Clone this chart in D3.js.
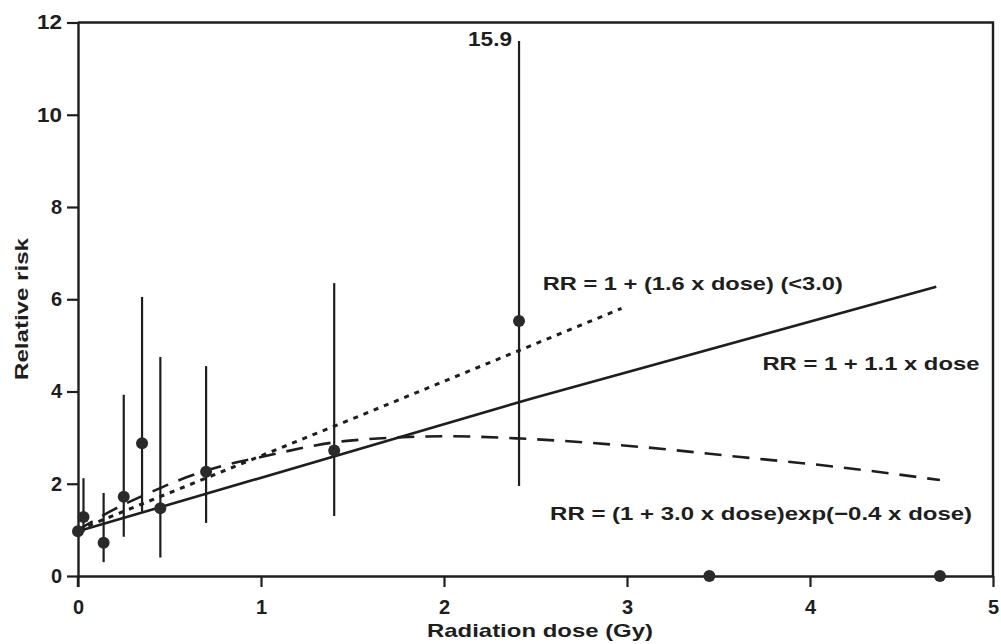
<!DOCTYPE html>
<html><head><meta charset="utf-8">
<script src="https://cdn.jsdelivr.net/npm/d3@7"></script>
<style>body{margin:0;background:#fff}text{font-family:"Liberation Sans",Arial,Helvetica,sans-serif;font-weight:bold;fill:#1e1e1e}</style>
</head><body><svg id="c" width="1001" height="644"></svg>
<script>
// Observed points: dose (Gy), relative risk, lower and upper CI (null = none shown)
const doses  = [0, 0.03, 0.14, 0.25, 0.35, 0.45, 0.70, 1.40, 2.41, 3.45, 4.71];
const rr     = [0.97, 1.28, 0.72, 1.72, 2.88, 1.47, 2.26, 2.72, 5.53, 0, 0];
const lower  = [null, 0.95, 0.30, 0.85, 1.40, 0.40, 1.15, 1.30, 1.95, null, null];
const upper  = [null, 2.12, 1.80, 3.93, 6.05, 4.75, 4.55, 6.35, 15.9, null, null];
const ciCap = 11.6; // upper bars drawn to the top of the plotting area and labelled
// Fitted curves
const linearFit = [[0, 0.97], [2.49, 3.86], [4.69, 6.27]];             // RR = 1 + 1.1 x dose
const lowDoseFit = [[0, 1.0], [1.52, 3.44], [2.97, 5.8]];              // RR = 1 + 1.6 x dose (<3.0)
const expFit = [[0, 1.0], [0.2, 1.45], [0.4, 1.82], [0.6, 2.15], [0.8, 2.4], [1.0, 2.58], [1.47, 2.93],
  [2.02, 3.03], [2.42, 2.98], [3.07, 2.8], [3.62, 2.58], [4.16, 2.36], [4.71, 2.08]];
const xTicks = [0, 1, 2, 3, 4, 5];
const yTicks = [0, 2, 4, 6, 8, 10, 12];
const labelTexts = ["RR = 1 + (1.6 x dose) (<3.0)", "RR = 1 + 1.1 x dose", "RR = (1 + 3.0 x dose)exp(\u22120.4 x dose)"];
const labelDose = [2.54, 3.74, 2.58];
const labelRR = [6.2, 4.46, 1.22];

// layout (pixels)
const labelWidths = [300, 217, 422];
const svg = d3.select("#c");
const x = d3.scaleLinear().domain([0, 5]).range([78, 993]);
const y = d3.scaleLinear().domain([0, 12]).range([576, 22.5]);
const ink = "#1e1e1e";

// axes
const xa = svg.append("g").attr("transform", `translate(0,${y(0)})`)
  .call(d3.axisBottom(x).tickValues(xTicks).tickFormat(d3.format("d")).tickSize(11).tickSizeOuter(0));
const ya = svg.append("g").attr("transform", `translate(${x(0)},0)`)
  .call(d3.axisLeft(y).tickValues(yTicks).tickFormat(d3.format("d")).tickSize(11).tickSizeOuter(0));
[xa, ya].forEach(g => {
  g.select(".domain").attr("stroke", ink).attr("stroke-width", 2.4);
  g.selectAll(".tick line").attr("stroke", ink).attr("stroke-width", 2.2);
  g.selectAll(".tick text").attr("font-size", 20).attr("fill", ink);
});
xa.selectAll(".tick text").attr("dy", "1.2em");
ya.selectAll(".tick text").attr("dx", "-0.1em").each(function () {
  const t = d3.select(this); if (t.text().length === 2) t.attr("textLength", 25).attr("lengthAdjust", "spacingAndGlyphs");
});
// extend y-axis line below 0 (as in the figure)
svg.append("line").attr("x1", x(0)).attr("x2", x(0)).attr("y1", y(0)).attr("y2", y(0) + 11)
  .attr("stroke", ink).attr("stroke-width", 2.4);
// frame top and right
svg.append("path").attr("fill", "none").attr("stroke", ink).attr("stroke-width", 2.4)
  .attr("d", `M${x(0)},${y(12)}H${x(5)}V${y(0)}`);

// axis titles
svg.append("text").attr("x", 540).attr("y", 637).attr("text-anchor", "middle")
  .attr("font-size", 19).attr("textLength", 226).attr("lengthAdjust", "spacingAndGlyphs").text("Radiation dose (Gy)");
svg.append("text").attr("transform", "translate(28,309) rotate(-90)").attr("text-anchor", "middle")
  .attr("font-size", 19).attr("textLength", 142).attr("lengthAdjust", "spacingAndGlyphs").text("Relative risk");

// curves
const line = d3.line().x(d => x(d[0])).y(d => y(d[1]));
svg.append("path").datum(linearFit).attr("d", line).attr("fill", "none").attr("stroke", ink).attr("stroke-width", 2.6);
svg.append("path").datum(lowDoseFit).attr("d", line).attr("fill", "none").attr("stroke", ink)
  .attr("stroke-width", 3).attr("stroke-dasharray", "5,6");
svg.append("path").datum(expFit).attr("d", d3.line().curve(d3.curveMonotoneX).x(d => x(d[0])).y(d => y(d[1])))
  .attr("fill", "none").attr("stroke", ink).attr("stroke-width", 2.6).attr("stroke-dasharray", "17,11");

// error bars and points
const pts = doses.map((d, i) => ({d, r: rr[i], lo: lower[i], hi: upper[i]}));
svg.selectAll(".ci").data(pts.filter(p => p.lo !== null)).enter().append("line")
  .attr("x1", p => x(p.d)).attr("x2", p => x(p.d))
  .attr("y1", p => y(p.lo)).attr("y2", p => y(Math.min(p.hi, ciCap)))
  .attr("stroke", ink).attr("stroke-width", 2.2);
svg.selectAll(".pt").data(pts).enter().append("circle")
  .attr("cx", p => x(p.d)).attr("cy", p => y(p.r)).attr("r", 6).attr("fill", "#2a2a2a");
// label for clipped upper bound
pts.filter(p => p.hi !== null && p.hi > ciCap).forEach(p => {
  svg.append("text").attr("x", x(p.d) - 7).attr("y", y(ciCap) + 5).attr("text-anchor", "end")
    .attr("font-size", 20).attr("textLength", 44).attr("lengthAdjust", "spacingAndGlyphs").text(d3.format(".1f")(p.hi));
});

// model labels
svg.selectAll(".lab").data(labelTexts).enter().append("text")
  .attr("x", (d, i) => x(labelDose[i])).attr("y", (d, i) => y(labelRR[i])).attr("font-size", 19)
  .attr("textLength", (d, i) => labelWidths[i]).attr("lengthAdjust", "spacingAndGlyphs").text(d => d);
</script></body></html>
